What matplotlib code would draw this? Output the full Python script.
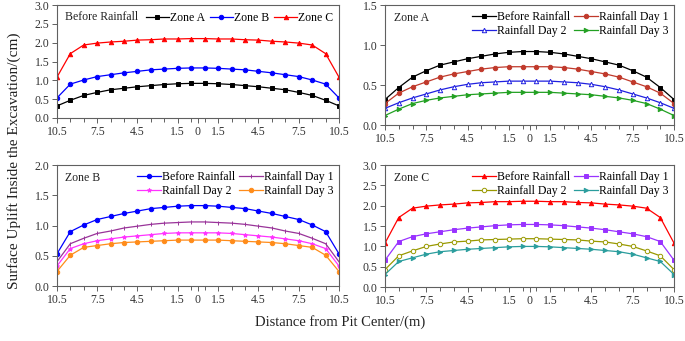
#!/usr/bin/env python3
import matplotlib
matplotlib.use("Agg")
import matplotlib.pyplot as plt

plt.rcParams["font.family"] = ["Liberation Serif", "DejaVu Serif"]

# distance from pit centre (m), 22 monitoring points
dist = [-10.5, -9.5, -8.5, -7.5, -6.5, -5.5, -4.5, -3.5, -2.5, -1.5, -0.5,
        0.5, 1.5, 2.5, 3.5, 4.5, 5.5, 6.5, 7.5, 8.5, 9.5, 10.5]
tick_pos = [-10.5, -7.5, -4.5, -1.5, 0, 1.5, 4.5, 7.5, 10.5]
tick_lab = ["10.5", "7.5", "4.5", "1.5", "0", "1.5", "4.5", "7.5", "10.5"]

# before rainfall, by zone (cm)
pre_a = [0.32, 0.47, 0.60, 0.68, 0.75, 0.79, 0.83, 0.86, 0.89, 0.91, 0.92,
         0.92, 0.91, 0.89, 0.86, 0.83, 0.79, 0.75, 0.68, 0.60, 0.47, 0.32]
pre_b = [0.53, 0.90, 1.01, 1.10, 1.15, 1.20, 1.24, 1.28, 1.30, 1.32, 1.33,
         1.33, 1.32, 1.30, 1.28, 1.24, 1.20, 1.15, 1.10, 1.01, 0.90, 0.53]
pre_c = [1.08, 1.71, 1.94, 1.99, 2.02, 2.04, 2.07, 2.08, 2.10, 2.10, 2.11,
         2.11, 2.10, 2.10, 2.08, 2.07, 2.04, 2.02, 1.99, 1.94, 1.71, 1.08]

# zone A during rainfall
a_d1 = [0.27, 0.40, 0.48, 0.54, 0.60, 0.64, 0.67, 0.70, 0.72, 0.73, 0.73,
        0.73, 0.73, 0.72, 0.70, 0.67, 0.64, 0.60, 0.54, 0.48, 0.40, 0.27]
a_d2 = [0.21, 0.28, 0.34, 0.39, 0.44, 0.48, 0.51, 0.53, 0.54, 0.55, 0.55,
        0.55, 0.55, 0.54, 0.53, 0.51, 0.48, 0.44, 0.39, 0.34, 0.28, 0.21]
a_d3 = [0.12, 0.20, 0.27, 0.31, 0.34, 0.36, 0.38, 0.39, 0.40, 0.41, 0.41,
        0.41, 0.41, 0.40, 0.39, 0.38, 0.36, 0.34, 0.31, 0.27, 0.20, 0.12]

# zone B during rainfall
b_d1 = [0.40, 0.70, 0.79, 0.87, 0.91, 0.96, 0.99, 1.02, 1.04, 1.05, 1.06,
        1.06, 1.05, 1.04, 1.02, 0.99, 0.96, 0.91, 0.87, 0.79, 0.70, 0.40]
b_d2 = [0.33, 0.62, 0.70, 0.75, 0.78, 0.81, 0.83, 0.85, 0.87, 0.88, 0.88,
        0.88, 0.88, 0.87, 0.85, 0.83, 0.81, 0.78, 0.75, 0.70, 0.62, 0.33]
b_d3 = [0.24, 0.51, 0.64, 0.67, 0.70, 0.72, 0.73, 0.74, 0.75, 0.76, 0.76,
        0.76, 0.76, 0.75, 0.74, 0.73, 0.72, 0.70, 0.67, 0.64, 0.51, 0.24]

# zone C during rainfall
c_d1 = [0.66, 1.12, 1.24, 1.31, 1.36, 1.41, 1.45, 1.48, 1.51, 1.53, 1.54,
        1.54, 1.53, 1.51, 1.48, 1.45, 1.41, 1.36, 1.31, 1.24, 1.12, 0.66]
c_d2 = [0.43, 0.77, 0.89, 1.00, 1.06, 1.11, 1.13, 1.16, 1.17, 1.18, 1.19,
        1.19, 1.18, 1.17, 1.16, 1.13, 1.11, 1.06, 1.00, 0.89, 0.77, 0.43]
c_d3 = [0.31, 0.63, 0.72, 0.81, 0.87, 0.90, 0.93, 0.95, 0.97, 0.99, 1.00,
        1.00, 0.99, 0.97, 0.95, 0.93, 0.90, 0.87, 0.81, 0.72, 0.63, 0.31]

GRAY = "#606060"


def style_axes(ax, ymax, ystep):
    ax.set_xlim(-10.5, 10.5)
    ax.set_ylim(0, ymax)
    ax.set_xticks(tick_pos)
    ax.set_xticklabels(tick_lab)
    ax.set_xticks(dist, minor=True)
    n = int(round(ymax / ystep))
    ax.set_yticks([i * ystep for i in range(n + 1)])
    ax.yaxis.set_major_formatter(plt.FormatStrFormatter("%.1f"))
    ax.tick_params(axis="both", which="both", direction="out", colors=GRAY,
                   labelcolor="#333333", labelsize=8.5, width=0.7)
    ax.tick_params(axis="x", which="major", length=3.5, pad=2)
    ax.tick_params(axis="x", which="minor", length=3)
    ax.tick_params(axis="y", length=3.5, pad=2)
    for sp in ax.spines.values():
        sp.set_color(GRAY)
        sp.set_linewidth(0.8)


def draw(ax, series, title):
    for y, col, mk, lab, mfc in series:
        ax.plot(dist, y, color=col, marker=mk, markersize=3.2, lw=0.9,
                label=lab, markerfacecolor=mfc, markeredgewidth=0.7)
    ax.text(0.03, 0.87, title, transform=ax.transAxes, fontsize=8.5,
            color="#222222")


fig = plt.figure(figsize=(6.85, 3.41), dpi=100)
ax1 = fig.add_axes([0.083, 0.654, 0.412, 0.331])
ax2 = fig.add_axes([0.562, 0.633, 0.422, 0.352])
ax3 = fig.add_axes([0.083, 0.161, 0.412, 0.355])
ax4 = fig.add_axes([0.562, 0.158, 0.422, 0.358])

draw(ax1, [
    (pre_a, "black", "s", "Zone A", "black"),
    (pre_b, "#0000ff", "o", "Zone B", "#0000ff"),
    (pre_c, "#ff0000", "^", "Zone C", "#ff0000"),
], "Before Rainfall")
style_axes(ax1, 3.0, 0.5)
ax1.legend(loc="upper right", ncol=3, frameon=False, fontsize=8.5,
           handlelength=2.0, handletextpad=0.05, columnspacing=0.4,
           borderaxespad=0.1, bbox_to_anchor=(1.0, 0.99))

draw(ax2, [
    (pre_a, "black", "s", "Before Rainfall", "black"),
    (a_d1, "#c0392b", "o", "Rainfall Day 1", "#c0392b"),
    (a_d2, "#2020e0", "^", "Rainfall Day 2", "white"),
    (a_d3, "#22a022", ">", "Rainfall Day 3", "#22a022"),
], "Zone A")
style_axes(ax2, 1.5, 0.5)

draw(ax3, [
    (pre_b, "#0000ff", "o", "Before Rainfall", "#0000ff"),
    (b_d1, "#993399", "|", "Rainfall Day 1", "#993399"),
    (b_d2, "#ff33ff", "*", "Rainfall Day 2", "#ff33ff"),
    (b_d3, "#ff8c1a", "o", "Rainfall Day 3", "#ff8c1a"),
], "Zone B")
style_axes(ax3, 2.0, 0.5)

draw(ax4, [
    (pre_c, "#ff0000", "^", "Before Rainfall", "#ff0000"),
    (c_d1, "#9933ff", "s", "Rainfall Day 1", "#9933ff"),
    (c_d2, "#999900", "o", "Rainfall Day 2", "white"),
    (c_d3, "#2a9d9d", ">", "Rainfall Day 3", "#2a9d9d"),
], "Zone C")
style_axes(ax4, 3.0, 0.5)

for ax in (ax2, ax3, ax4):
    # legend fills column by column, so reorder to read row by row
    h, l = ax.get_legend_handles_labels()
    order = [0, 2, 1, 3]
    ax.legend([h[i] for i in order], [l[i] for i in order],
              loc="upper right", ncol=2, frameon=False, fontsize=8.5,
              handlelength=2.0, handletextpad=0.05, columnspacing=0.4,
              labelspacing=0.15, borderaxespad=0.1,
              bbox_to_anchor=(1.0, 1.0))

fig.text(0.02, 0.53, "Surface Uplift Inside the Excavation/(cm)",
         rotation=90, ha="center", va="center", fontsize=11,
         color="#222222")
fig.text(0.497, 0.056, "Distance from Pit Center/(m)", ha="center",
         va="center", fontsize=10.5, color="#222222")

fig.savefig("out.png", dpi=100)
